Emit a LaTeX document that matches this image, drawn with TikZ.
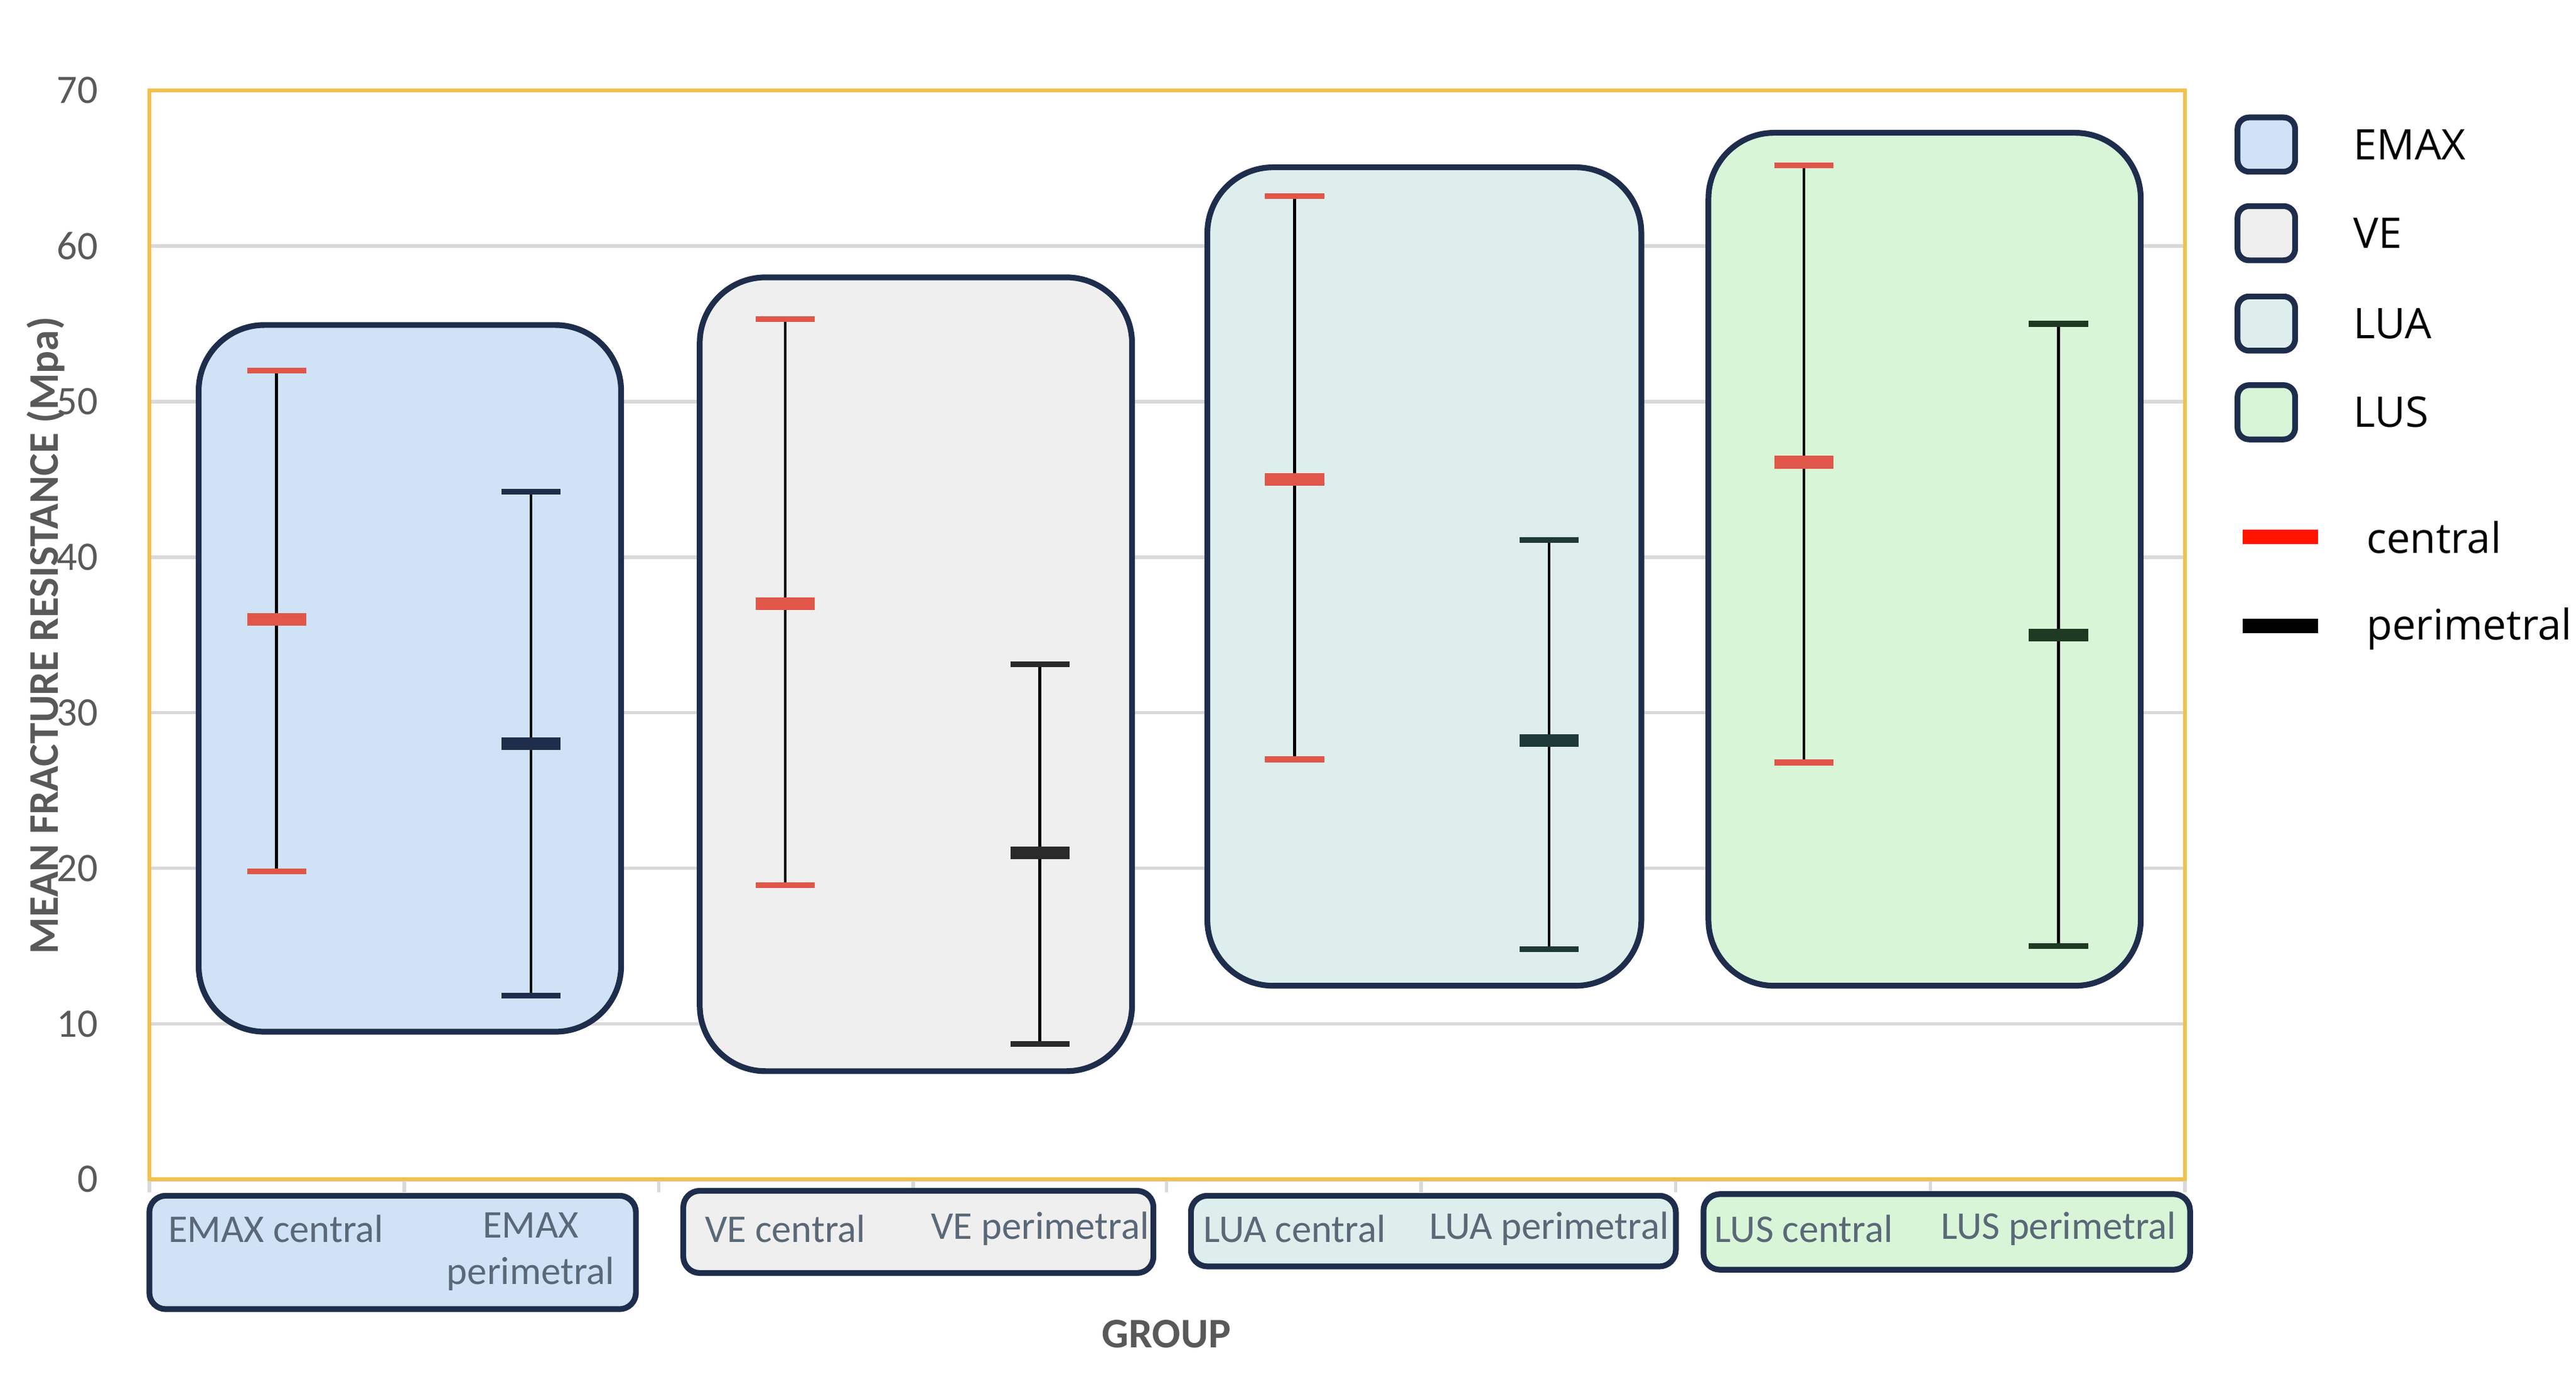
\documentclass[tikz,border=0pt]{standalone}
\usepackage{fontspec}
\setmainfont{Carlito}
\newfontfamily\legf{Open Sans}
\begin{document}
\begin{tikzpicture}[x=0.01cm,y=-0.01cm,
  grp/.style={draw=navy,line width=1pt,rounded corners=0.4cm},
  lab/.style={draw=navy,line width=1pt,rounded corners=0.1cm},
  tick/.style={font=\fontsize{7}{8}\selectfont,text=axisgray,anchor=east},
  cat/.style={font=\fontsize{6.8}{8}\selectfont,text=labgray,align=center},
  leg/.style={font=\legf\fontsize{7.3}{9}\selectfont,anchor=west},
  whisk/.style={line width=0.5pt,black},
  ebcap/.style={line width=1pt},
  mean/.style={line width=2.2pt}]
\definecolor{navy}{HTML}{1F2D4D}
\definecolor{axisgray}{HTML}{595959}
\definecolor{labgray}{HTML}{5A6878}
\definecolor{gridc}{HTML}{D9D9D9}
\definecolor{frame}{HTML}{F2C14E}
\definecolor{cemax}{HTML}{CFE2F6}
\definecolor{cve}{HTML}{EFEFEF}
\definecolor{clua}{HTML}{DDEEED}
\definecolor{clus}{HTML}{D9F5D8}
\definecolor{cred}{HTML}{E0574A}
\definecolor{pemax}{HTML}{1F2D4D}
\definecolor{pve}{HTML}{2A2A2A}
\definecolor{plua}{HTML}{1E3A38}
\definecolor{plus}{HTML}{1E3A22}
\useasboundingbox (0,0) rectangle (1568,837);
% grid
\foreach \v in {10,20,...,60} \draw[gridc,line width=0.6pt] (91,{718-9.47*\v}) -- (1330,{718-9.47*\v});
\draw[gridc,line width=0.8pt] (91,718) -- (1330,718);
\foreach \xx in {91,246,401,556,710,865,1020,1175,1330} \draw[gridc,line width=0.6pt] (\xx,718) -- (\xx,726);
\draw[frame,line width=0.6pt] (91,55) rectangle (1330,718);
\foreach \v in {0,10,...,70} \node[tick] (t\v) at (72,{718-9.47*\v}) {\v};
% group boxes
\node[grp,fill=cemax,minimum width=2.57cm,minimum height=4.30cm] (gEMAX) at (249.5,413) {};
\node[grp,fill=cve,minimum width=2.63cm,minimum height=4.83cm] (gVE) at (557.5,410.5) {};
\node[grp,fill=clua,minimum width=2.64cm,minimum height=4.98cm] (gLUA) at (867,351) {};
\node[grp,fill=clus,minimum width=2.63cm,minimum height=5.19cm] (gLUS) at (1171.5,340.5) {};
% error bars: x, mean, low, high, colour
\foreach \xx/\m/\lo/\hi/\c in {168.4/36/19.8/52/cred,323.3/28/11.8/44.2/pemax,
  478/37/18.9/55.3/cred,633/21/8.7/33.1/pve,788/45/27/63.2/cred,943/28.2/14.8/41.1/plua,
  1098/46.1/26.8/65.2/cred,1253/35/15/55/plus}{
  \draw[whisk] (\xx,{718-9.47*\lo}) -- (\xx,{718-9.47*\hi});
  \draw[ebcap,\c] (\xx-18,{718-9.47*\lo}) -- (\xx+18,{718-9.47*\lo});
  \draw[ebcap,\c] (\xx-18,{718-9.47*\hi}) -- (\xx+18,{718-9.47*\hi});
  \draw[mean,\c] (\xx-18,{718-9.47*\m}) -- (\xx+18,{718-9.47*\m});
}
% category label boxes
\node[lab,fill=cemax,minimum width=2.96cm,minimum height=0.69cm] (lEMAX) at (239,762.5) {};
\node[lab,fill=cve,minimum width=2.86cm,minimum height=0.50cm] (lVE) at (559,750) {};
\node[lab,fill=clua,minimum width=2.95cm,minimum height=0.43cm] (lLUA) at (872.5,749.5) {};
\node[lab,fill=clus,minimum width=2.96cm,minimum height=0.46cm] (lLUS) at (1185,750) {};
\node[cat] (c1) at (168,748) {EMAX central};
\node[cat] (c2) at (323,762) {EMAX\\perimetral};
\node[cat] (c3) at (478,748) {VE central};
\node[cat] (c4) at (633,748) {VE perimetral};
\node[cat] (c5) at (788,748) {LUA central};
\node[cat] (c6) at (943,748) {LUA perimetral};
\node[cat] (c7) at (1098,748) {LUS central};
\node[cat] (c8) at (1253,748) {LUS perimetral};
% axis titles
\node[font=\bfseries\fontsize{7.3}{9}\selectfont,text=axisgray,rotate=90] (yt) at (28,387) {MEAN FRACTURE RESISTANCE (Mpa)};
\node[font=\bfseries\fontsize{7.3}{9}\selectfont,text=axisgray] (xt) at (710,812) {GROUP};
% legend
\foreach \n/\yy/\c/\t in {1/88/cemax/EMAX,2/142/cve/VE,3/197/clua/LUA,4/251/clus/LUS}{
  \node[draw=navy,line width=1pt,rounded corners=0.07cm,fill=\c,minimum width=0.35cm,minimum height=0.33cm] (lb\n) at (1379.5,\yy) {};
  \node[leg] (lt\n) at (1420,\yy) {\t};
}
\coordinate (la1) at (1365,327); \coordinate (lb5) at (1411,327);
\coordinate (la2) at (1365,381); \coordinate (lb6) at (1411,381);
\draw[line width=2.5pt,red!85!orange] (la1) -- (lb5);
\draw[line width=2.5pt,black] (la2) -- (lb6);
\node[leg] (lt5) at (1428,327) {central};
\node[leg] (lt6) at (1428,383) {perimetral};
\end{tikzpicture}
\end{document}
